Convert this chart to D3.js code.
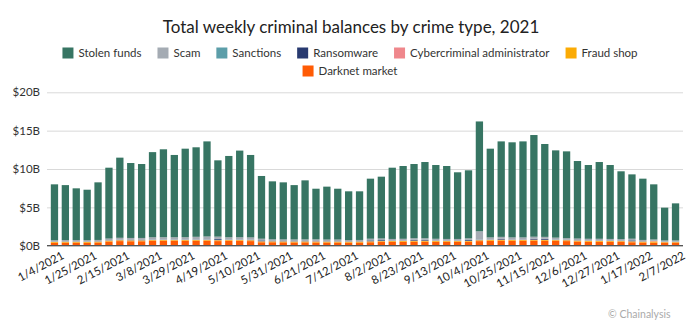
<!DOCTYPE html>
<html><head><meta charset="utf-8">
<script src="https://cdn.jsdelivr.net/npm/d3@7/dist/d3.min.js"></script>
<style>body{margin:0;background:#fff;}svg{display:block;font-family:Lato,"Noto Sans",sans-serif;}</style>
</head><body><svg id="c" width="700" height="336"></svg>
<script>
const weeks = ["1/4/2021","1/11/2021","1/18/2021","1/25/2021","2/1/2021","2/8/2021","2/15/2021","2/22/2021","3/1/2021","3/8/2021","3/15/2021","3/22/2021","3/29/2021","4/5/2021","4/12/2021","4/19/2021","4/26/2021","5/3/2021","5/10/2021","5/17/2021","5/24/2021","5/31/2021","6/7/2021","6/14/2021","6/21/2021","6/28/2021","7/5/2021","7/12/2021","7/19/2021","7/26/2021","8/2/2021","8/9/2021","8/16/2021","8/23/2021","8/30/2021","9/6/2021","9/13/2021","9/20/2021","9/27/2021","10/4/2021","10/11/2021","10/18/2021","10/25/2021","11/1/2021","11/8/2021","11/15/2021","11/22/2021","11/29/2021","12/6/2021","12/13/2021","12/20/2021","12/27/2021","1/3/2022","1/10/2022","1/17/2022","1/24/2022","1/31/2022","2/7/2022"];
const tickLabels = ["1/4/2021","1/25/2021","2/15/2021","3/8/2021","3/29/2021","4/19/2021","5/10/2021","5/31/2021","6/21/2021","7/12/2021","8/2/2021","8/23/2021","9/13/2021","10/4/2021","10/25/2021","11/15/2021","12/6/2021","12/27/2021","1/17/2022","2/7/2022"];
const yTicks = [0,5,10,15,20];
// values in $B
const darknetMarket = [0.38,0.4,0.4,0.38,0.42,0.55,0.6,0.58,0.58,0.62,0.63,0.62,0.63,0.63,0.62,0.6,0.62,0.62,0.6,0.45,0.45,0.44,0.43,0.44,0.42,0.42,0.42,0.41,0.42,0.45,0.48,0.5,0.52,0.53,0.53,0.52,0.5,0.5,0.5,0.6,0.65,0.66,0.65,0.65,0.66,0.64,0.62,0.6,0.55,0.52,0.52,0.5,0.48,0.45,0.42,0.4,0.35,0.35];
const fraudShop = [0.1,0.1,0.1,0.1,0.1,0.1,0.1,0.1,0.1,0.1,0.1,0.1,0.1,0.1,0.1,0.1,0.1,0.1,0.1,0.1,0.1,0.1,0.1,0.1,0.1,0.1,0.1,0.1,0.1,0.1,0.1,0.1,0.1,0.1,0.1,0.1,0.1,0.1,0.1,0.1,0.1,0.1,0.1,0.1,0.1,0.1,0.1,0.1,0.1,0.1,0.1,0.1,0.1,0.1,0.1,0.15,0.1,0.1];
const cyberAdmin = [0.03,0.03,0.03,0.03,0.03,0.03,0.03,0.03,0.03,0.03,0.03,0.03,0.03,0.03,0.03,0.03,0.03,0.03,0.03,0.03,0.03,0.03,0.03,0.03,0.06,0.03,0.03,0.03,0.03,0.03,0.03,0.03,0.03,0.03,0.03,0.03,0.03,0.03,0.03,0.03,0.03,0.03,0.03,0.03,0.03,0.03,0.03,0.03,0.03,0.03,0.03,0.03,0.03,0.03,0.03,0.06,0.03,0.03];
const ransomware = [0.02,0.02,0.02,0.02,0.02,0.02,0.02,0.02,0.02,0.02,0.02,0.02,0.02,0.02,0.02,0.12,0.02,0.02,0.02,0.1,0.02,0.02,0.02,0.02,0.02,0.02,0.02,0.02,0.02,0.1,0.1,0.02,0.02,0.08,0.08,0.02,0.02,0.02,0.1,0.02,0.02,0.08,0.02,0.02,0.1,0.1,0.02,0.02,0.02,0.02,0.02,0.02,0.02,0.1,0.02,0.02,0.02,0.02];
const sanctions = [0.03,0.03,0.03,0.03,0.03,0.03,0.03,0.03,0.03,0.03,0.03,0.03,0.03,0.03,0.03,0.03,0.03,0.03,0.03,0.03,0.03,0.03,0.03,0.03,0.03,0.03,0.03,0.03,0.03,0.03,0.03,0.03,0.03,0.03,0.03,0.03,0.03,0.03,0.03,0.03,0.03,0.03,0.03,0.03,0.03,0.03,0.03,0.03,0.03,0.03,0.03,0.03,0.03,0.03,0.03,0.03,0.03,0.03];
const scam = [0.15,0.15,0.15,0.15,0.15,0.2,0.25,0.25,0.25,0.3,0.3,0.3,0.3,0.35,0.4,0.3,0.3,0.3,0.3,0.2,0.2,0.2,0.2,0.2,0.2,0.2,0.2,0.15,0.15,0.2,0.2,0.2,0.2,0.2,0.2,0.2,0.2,0.2,0.2,1.1,0.25,0.25,0.25,0.25,0.25,0.25,0.25,0.2,0.2,0.2,0.2,0.2,0.2,0.2,0.15,0.15,0.15,0.15];
const stolenFunds = [7.29,7.17,6.75,6.59,7.51,9.24,10.45,9.77,9.64,11.10,11.46,10.73,11.54,11.67,12.40,9.95,10.60,11.30,10.75,8.18,7.56,7.44,7.09,7.70,6.60,6.90,6.63,6.35,6.34,7.83,8.06,9.29,9.49,9.68,9.94,9.62,9.51,8.69,8.87,14.32,11.57,12.45,12.40,12.52,13.26,12.11,11.38,11.32,10.11,9.62,10.01,9.64,8.84,8.39,7.99,7.19,4.28,4.84];

const legendNames = ["Stolen funds","Scam","Sanctions","Ransomware","Cybercriminal administrator","Fraud shop","Darknet market"];
const legendColors = ["#377563","#a4abb3","#5c9ea9","#283a70","#ef878c","#fbab04","#ff5b04"];
// stacking order bottom -> top
const stackKeys = ["Darknet market","Fraud shop","Cybercriminal administrator","Ransomware","Sanctions","Scam","Stolen funds"];
const seriesValues = {"Darknet market":darknetMarket,"Fraud shop":fraudShop,"Cybercriminal administrator":cyberAdmin,"Ransomware":ransomware,"Sanctions":sanctions,"Scam":scam,"Stolen funds":stolenFunds};

const rows = weeks.map((w,i)=>{const o={week:w}; stackKeys.forEach(k=>o[k]=seriesValues[k][i]); return o;});
const color = d3.scaleOrdinal().domain(legendNames).range(legendColors);

const svg = d3.select("#c");
const x = d3.scaleBand().domain(weeks).range([47,683]).paddingInner(0.33).paddingOuter(0.35);
const y = d3.scaleLinear().domain([0,20]).range([245.7,92.3]);

// title
svg.append("text").attr("x",351).attr("y",33).attr("text-anchor","middle")
  .attr("font-size",17).attr("fill","#222").text("Total weekly criminal balances by crime type, 2021");

// legend
const lg = svg.append("g");
const rowsDef = [legendNames.slice(0,6), legendNames.slice(6)];
const rowY = [53, 71];
const gap = 16, sw = 11, tg = 5;
rowsDef.forEach((names,ri)=>{
  const items = names.map(n=>{
    const t = lg.append("text").attr("font-size",11.5).attr("fill","#333").attr("y",rowY[ri]).attr("dy","0.35em").text(n);
    return {n,t,w:t.node().getComputedTextLength()};
  });
  const total = d3.sum(items,d=>sw+tg+d.w) + gap*(items.length-1);
  let cx = 350 - total/2;
  items.forEach(it=>{
    lg.append("rect").attr("x",cx).attr("y",rowY[ri]-5.5).attr("width",sw).attr("height",sw).attr("fill",color(it.n));
    it.t.attr("x",cx+sw+tg);
    cx += sw+tg+it.w+gap;
  });
});

// grid
const yAxis = d3.axisLeft(y).tickValues(yTicks).tickSize(-(683-47)).tickFormat(d=>"$"+d+"B");
const gy = svg.append("g").attr("transform","translate(47,0)").call(yAxis);
gy.select(".domain").remove();
gy.selectAll(".tick line").attr("stroke","#d9d9d9").attr("stroke-width",1);
gy.selectAll(".tick text").attr("x",-7).attr("font-size",11.5).attr("fill","#333").attr("font-family","Lato,'Noto Sans',sans-serif");

// bars
const stack = d3.stack().keys(stackKeys)(rows);
svg.append("g").selectAll("g").data(stack).join("g").attr("fill",d=>color(d.key))
  .selectAll("rect").data(d=>d).join("rect")
  .attr("x",d=>x(d.data.week)).attr("width",x.bandwidth())
  .attr("y",d=>y(d[1])).attr("height",d=>Math.max(0,y(d[0])-y(d[1])));

// x axis
const xAxis = d3.axisBottom(x).tickValues(tickLabels).tickSize(0).tickPadding(6);
const gx = svg.append("g").attr("transform",`translate(0,${y(0)})`).call(xAxis);
gx.select(".domain").attr("stroke","#555").attr("stroke-width",1.2).attr("d","M47,0H683");
gx.selectAll(".tick text").attr("font-size",11.5).attr("fill","#222").attr("font-family","Lato,'Noto Sans',sans-serif")
  .attr("text-anchor","end").attr("dy","0.3em").attr("transform","translate(6,4) rotate(-28)");

// credit
svg.append("text").attr("x",608).attr("y",318).attr("font-size",10.5).attr("fill","#aaa").text("© Chainalysis");
</script></body></html>
